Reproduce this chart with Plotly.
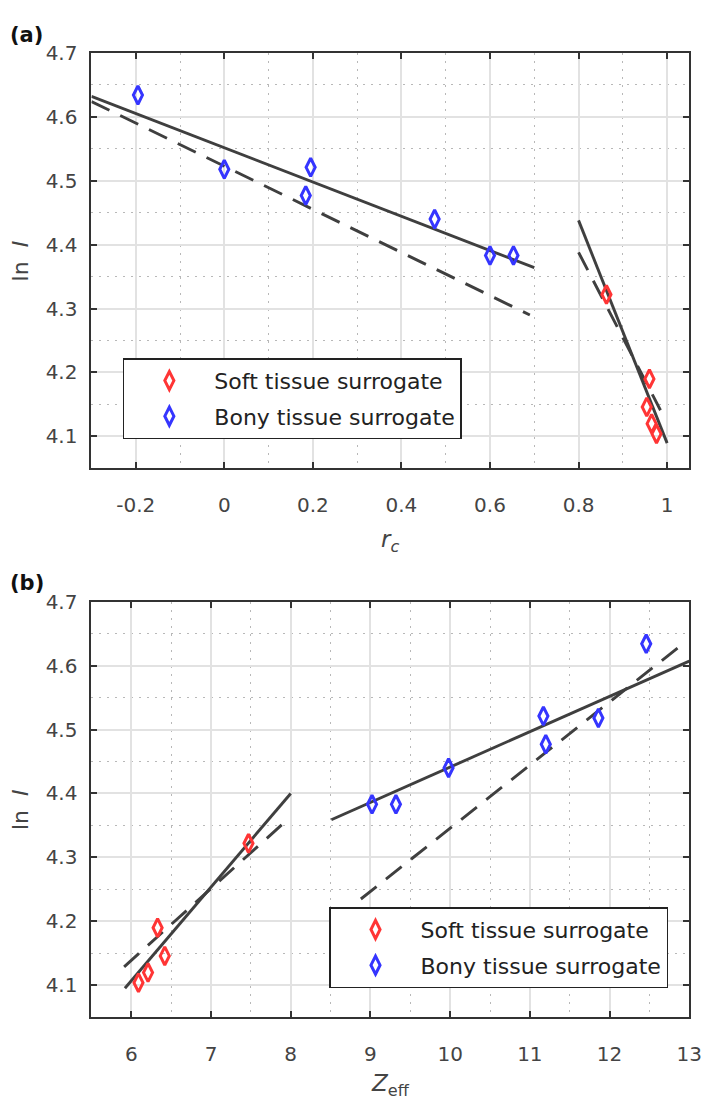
import plotly.graph_objects as go

W, H = 709, 1103

# ---------------- data: panel (a) ----------------
rc_soft = [0.863, 0.960, 0.954, 0.965, 0.976]
lnI_soft = [4.322, 4.190, 4.146, 4.120, 4.104]
rc_bony = [-0.195, 0.0, 0.195, 0.184, 0.475, 0.600, 0.653]
lnI_bony = [4.634, 4.518, 4.521, 4.477, 4.440, 4.383, 4.383]

# fit lines (a)
a_bony_solid_x = [-0.3, 0.70]
a_bony_solid_y = [4.632, 4.364]
a_bony_dash_x = [-0.3, 0.69]
a_bony_dash_y = [4.624, 4.290]
a_soft_solid_x = [0.80, 1.00]
a_soft_solid_y = [4.438, 4.0895]
a_soft_dash_x = [0.80, 0.985]
a_soft_dash_y = [4.388, 4.141]

# ---------------- data: panel (b) ----------------
z_soft = [7.47, 6.33, 6.42, 6.21, 6.09]
z_bony = [12.46, 11.86, 11.17, 11.20, 9.98, 9.02, 9.32]

b_soft_solid_x = [5.92, 8.0]
b_soft_solid_y = [4.0955, 4.400]
b_soft_dash_x = [5.91, 7.95]
b_soft_dash_y = [4.129, 4.358]
b_bony_solid_x = [8.51, 13.0]
b_bony_solid_y = [4.359, 4.607]
b_bony_dash_x = [8.88, 12.87]
b_bony_dash_y = [4.235, 4.629]

# ticks
a_xticks = [-0.2, 0, 0.2, 0.4, 0.6, 0.8, 1]
a_xticktext = ["-0.2", "0", "0.2", "0.4", "0.6", "0.8", "1"]
a_xminor = [-0.1, 0.1, 0.3, 0.5, 0.7, 0.9]
b_xticks = [6, 7, 8, 9, 10, 11, 12, 13]
b_xticktext = ["6", "7", "8", "9", "10", "11", "12", "13"]
b_xminor = [6.5, 7.5, 8.5, 9.5, 10.5, 11.5, 12.5]
yticks = [4.1, 4.2, 4.3, 4.4, 4.5, 4.6, 4.7]
yticktext = ["4.1", "4.2", "4.3", "4.4", "4.5", "4.6", "4.7"]
yminor = [4.15, 4.25, 4.35, 4.45, 4.55, 4.65]

RED = "#FF3535"
BLUE = "#3535FF"
LINE = "#3F3F3F"
FONT = "DejaVu Sans"


def px(x):
    return x / W


def py(y):
    return 1 - y / H


fig = go.Figure()


def add_panel(xa, ya, legend, xs, ys_soft, xb, ys_bony, lines):
    for (lx, ly, dash) in lines:
        fig.add_trace(go.Scatter(
            x=lx, y=ly, mode="lines", xaxis=xa, yaxis=ya, showlegend=False,
            line=dict(color=LINE, width=2.9, dash=dash), hoverinfo="skip"))
    fig.add_trace(go.Scatter(
        x=xs, y=ys_soft, mode="markers", name="Soft tissue surrogate",
        xaxis=xa, yaxis=ya, legend=legend, legendgroup=legend + "s",
        marker=dict(symbol="diamond-tall-open", size=13, color=RED,
                    line=dict(color=RED, width=3))))
    fig.add_trace(go.Scatter(
        x=xb, y=ys_bony, mode="markers", name="Bony tissue surrogate",
        xaxis=xa, yaxis=ya, legend=legend, legendgroup=legend + "b",
        marker=dict(symbol="diamond-tall-open", size=13, color=BLUE,
                    line=dict(color=BLUE, width=3))))


DASH = "20px,12px"
add_panel("x", "y", "legend", rc_soft, lnI_soft, rc_bony, lnI_bony, [
    (a_bony_solid_x, a_bony_solid_y, "solid"),
    (a_bony_dash_x, a_bony_dash_y, DASH),
    (a_soft_solid_x, a_soft_solid_y, "solid"),
    (a_soft_dash_x, a_soft_dash_y, DASH),
])
add_panel("x2", "y2", "legend2", z_soft, lnI_soft, z_bony, lnI_bony, [
    (b_soft_solid_x, b_soft_solid_y, "solid"),
    (b_soft_dash_x, b_soft_dash_y, DASH),
    (b_bony_solid_x, b_bony_solid_y, "solid"),
    (b_bony_dash_x, b_bony_dash_y, DASH),
])

axis_common = dict(
    showline=True, linecolor="#333333", linewidth=2, mirror="ticks",
    ticks="inside", ticklen=6, tickwidth=1.8, tickcolor="#333333",
    showgrid=True, gridcolor="#E2E2E2", gridwidth=1.6,
    zeroline=False, tickfont=dict(family=FONT, size=20, color="#444444"),
)
minor_common = dict(showgrid=True, griddash="2px,6px", gridcolor="#B8B8B8",
                    gridwidth=1.3, ticks="")

LEG = dict(xanchor="left", yanchor="top", bgcolor="white",
           bordercolor="#222222", borderwidth=1.5,
           font=dict(family=FONT, size=22, color="#222222"),
           itemwidth=80, tracegroupgap=4, traceorder="grouped")

xdom = [px(85), px(694)]
fig.update_layout(
    width=W, height=H, margin=dict(l=0, r=0, t=0, b=0),
    paper_bgcolor="white", plot_bgcolor="white",
    xaxis=dict(domain=xdom, anchor="y", range=[-0.3, 1.05],
               tickvals=a_xticks, ticktext=a_xticktext, ticklabelstandoff=18,
               minor=dict(tickvals=a_xminor, **minor_common), **axis_common),
    yaxis=dict(domain=[py(453.3), py(33.3)], anchor="x", range=[4.05, 4.7],
               tickvals=yticks, ticktext=yticktext, ticklabelstandoff=8,
               minor=dict(tickvals=yminor, **minor_common), **axis_common),
    xaxis2=dict(domain=xdom, anchor="y2", range=[5.5, 13],
                tickvals=b_xticks, ticktext=b_xticktext, ticklabelstandoff=18,
                minor=dict(tickvals=b_xminor, **minor_common), **axis_common),
    yaxis2=dict(domain=[py(1008.3), py(588)], anchor="x2", range=[4.05, 4.7],
                tickvals=yticks, ticktext=yticktext, ticklabelstandoff=8,
                minor=dict(tickvals=yminor, **minor_common), **axis_common),
    legend=dict(x=px(117), y=py(342), **LEG),
    legend2=dict(x=px(327), y=py(897), **LEG),
    showlegend=True,
)

ann = []
# panel labels
ann.append(dict(text="<b>(a)</b>", x=px(0), y=py(15), xanchor="left", yanchor="middle",
                font=dict(family=FONT, size=21, color="#111111")))
ann.append(dict(text="<b>(b)</b>", x=px(0), y=py(569), xanchor="left", yanchor="middle",
                font=dict(family=FONT, size=21, color="#111111")))
# y titles
for yc in (243.3, 798):
    ann.append(dict(text="ln  <i>I</i>", x=px(13), y=py(yc), textangle=-90,
                    xanchor="center", yanchor="middle",
                    font=dict(family=FONT, size=22, color="#444444")))
# x titles
ann.append(dict(text="<i>r</i><sub><i>c</i></sub>", x=px(389.5), y=py(527),
                xanchor="center", yanchor="middle",
                font=dict(family=FONT, size=23, color="#444444")))
ann.append(dict(text="<i>Z</i><sub>eff</sub>", x=px(389.5), y=py(1077),
                xanchor="center", yanchor="middle",
                font=dict(family=FONT, size=23, color="#444444")))
for a in ann:
    a.update(xref="paper", yref="paper", showarrow=False)
fig.update_layout(annotations=ann)

fig.write_html("out.html")
